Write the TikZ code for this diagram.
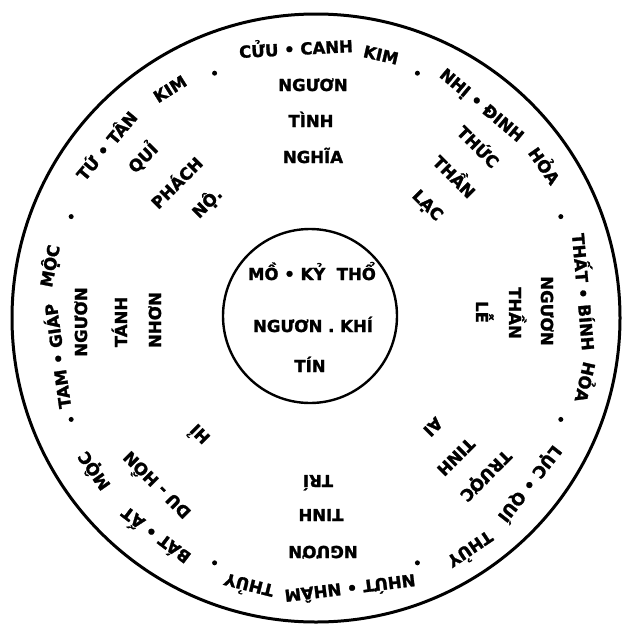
\documentclass[tikz,border=0pt]{standalone}
\usepackage{fontspec}
\setmainfont{DejaVu Sans}[BoldFeatures={FakeBold=1.5}]
\begin{document}
\begin{tikzpicture}[x=1pt,y=-1pt,
  lbl/.style={inner sep=0pt, text height=12pt, text depth=0pt,
    font=\fontsize{16.5}{19}\selectfont\bfseries},
  ring/.style={draw, circle, inner sep=0pt},
  sepdot/.style={fill, circle, inner sep=0pt, minimum size=5pt}]
\useasboundingbox (0,0) rectangle (629,627);
\node[ring, line width=3pt, minimum size=608pt] (outer) at (316,318) {};
\node[ring, line width=2.4pt, minimum size=174pt] (inner) at (310,316) {};
\foreach \i in {0,...,7}{
  \node[sepdot] (d\i) at ({316+265*cos(22.5+45*\i)},{318-265*sin(22.5+45*\i)}) {};
}
% outer ring texts
\node[lbl, rotate=3] (r1a) at (296,49) {CỬU • CANH};
\node[lbl, rotate=-13] (r1b) at (381,55) {KIM};
\node[lbl, rotate=-40] (r2a) at (482,105) {NHỊ • ĐINH};
\node[lbl, rotate=-55] (r2b) at (544,166) {HỎA};
\node[lbl, rotate=-85] (r3a) at (583,292) {THẤT • BÍNH};
\node[lbl, rotate=-103] (r3b) at (585,382) {HỎA};
\node[lbl, rotate=-128] (r4a) at (530,484) {LỤC • QUÍ};
\node[lbl, rotate=-146] (r4b) at (470,549) {THỦY};
\node[lbl, rotate=-173] (r5a) at (350,588) {NHỨT • NHÂM};
\node[lbl, rotate=166] (r5b) at (249,585) {THỦY};
\node[lbl, rotate=143] (r6a) at (156,535) {BÁT • ẤT};
\node[lbl, rotate=125] (r6b) at (94,471) {MỘC};
\node[lbl, rotate=98] (r7a) at (58,356) {TAM • GIÁP};
\node[lbl, rotate=79] (r7b) at (50,266) {MỘC};
\node[lbl, rotate=50] (r8a) at (107,146) {TỨ • TÂN};
\node[lbl, rotate=32] (r8b) at (170,89) {KIM};
% sector texts
\node[lbl] (t1) at (313,85) {NGƯƠN};
\node[lbl] (t2) at (311,121) {TÌNH};
\node[lbl] (t3) at (313,157) {NGHĨA};
\node[lbl, rotate=-45] (ur1) at (478,147) {THỨC};
\node[lbl, rotate=-45] (ur2) at (454,177) {THẦN};
\node[lbl, rotate=-45] (ur3) at (428,205) {LẠC};
\node[lbl, rotate=-90] (rt1) at (547,311) {NGƯƠN};
\node[lbl, rotate=-90] (rt2) at (515,313) {THẦN};
\node[lbl, rotate=-90] (rt3) at (482,312) {LỄ};
\node[lbl, rotate=-135] (lr1) at (486,476) {TRƯỢC};
\node[lbl, rotate=-135] (lr2) at (456,457) {TINH};
\node[lbl, rotate=-135] (lr3) at (433,427) {AI};
\node[lbl, rotate=180] (b1) at (323,552) {NGƯƠN};
\node[lbl, rotate=180] (b2) at (321,515) {TINH};
\node[lbl, rotate=180] (b3) at (318,481) {TRÍ};
\node[lbl, rotate=135] (ll1) at (157,485) {DU - HỒN};
\node[lbl, rotate=135] (ll2) at (200,434) {HỈ};
\node[lbl, rotate=90] (l1) at (81,322) {NGƯƠN};
\node[lbl, rotate=90] (l2) at (121,322) {TÁNH};
\node[lbl, rotate=90] (l3) at (155,320) {NHƠN};
\node[lbl, rotate=45] (ul1) at (143,158) {QUỈ};
\node[lbl, rotate=45] (ul2) at (177,183) {PHÁCH};
\node[lbl, rotate=45] (ul3) at (207,203) {NỘ.};
% center
\node[lbl] (c1) at (312,274) {MỒ • KỶ \ THỔ};
\node[lbl] (c2) at (313,326) {NGƯƠN . KHÍ};
\node[lbl] (c3) at (310,366) {TÍN};
\end{tikzpicture}
\end{document}
